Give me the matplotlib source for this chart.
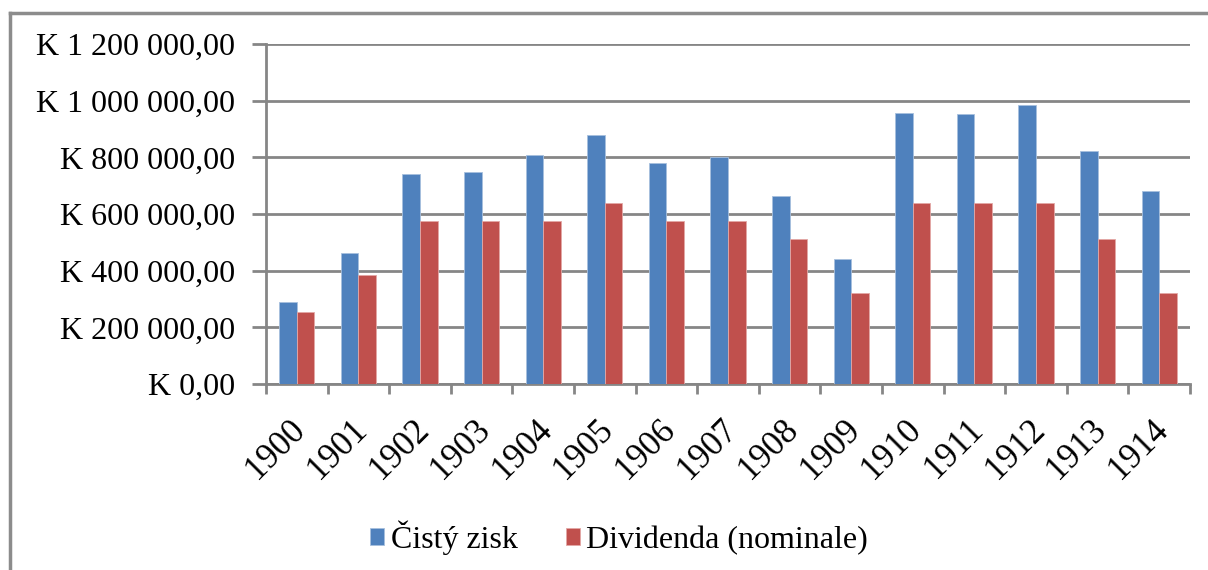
import numpy as np
import matplotlib
matplotlib.use('Agg')
import matplotlib.pyplot as plt
import matplotlib.transforms as mtransforms
from matplotlib.lines import Line2D
from matplotlib.ticker import FuncFormatter

years = ['1900', '1901', '1902', '1903', '1904', '1905', '1906', '1907',
         '1908', '1909', '1910', '1911', '1912', '1913', '1914']
cisty_zisk = [289000, 462000, 740000, 749000, 809000, 880000, 779000, 800000,
              662000, 440000, 956000, 953000, 984000, 824000, 680000]
dividenda = [255000, 384000, 575000, 575000, 575000, 639000, 575000, 575000,
             511000, 320000, 639000, 639000, 639000, 511000, 320000]

blue = '#4F81BD'
red = '#C0504D'
grid_col = '#868686'

plt.rcParams['font.family'] = ['Liberation Serif', 'DejaVu Serif']

fig = plt.figure(figsize=(12.08, 5.70), dpi=100)
ax = fig.add_axes([266/1208, 1 - 384/570, (1190 - 266)/1208, (384 - 44)/570])

# outer chart border (only top and left visible in the picture)
fig.add_artist(Line2D([10/1208, 10/1208], [0, 1 - 13/570], transform=fig.transFigure,
                      color='#8c8c8c', lw=2.5))
fig.add_artist(Line2D([10/1208, 1], [1 - 13/570, 1 - 13/570], transform=fig.transFigure,
                      color='#8c8c8c', lw=2.5))

x = np.arange(len(years))
w = 0.285
ax.bar(x - w/2, cisty_zisk, w, color=blue, edgecolor='#a7c0de', linewidth=0.6,
       label='Čistý zisk', zorder=3)
ax.bar(x + w/2, dividenda, w, color=red, edgecolor='#e3a8a6', linewidth=0.6,
       label='Dividenda (nominale)', zorder=3)

ax.set_xlim(-0.5, len(years) - 0.5)
ax.set_ylim(0, 1200000)
ax.set_yticks(np.arange(0, 1200001, 200000))

def kc(v, pos):
    s = '{:,.2f}'.format(v).replace(',', ' ').replace('.', ',')
    return 'K ' + s

ax.yaxis.set_major_formatter(FuncFormatter(kc))
ax.yaxis.grid(True, color=grid_col, lw=2, zorder=0)
ax.set_axisbelow(True)

for s in ['top', 'right']:
    ax.spines[s].set_visible(False)
ax.spines['left'].set_color(grid_col)
ax.spines['left'].set_linewidth(2)
ax.spines['bottom'].set_color(grid_col)
ax.spines['bottom'].set_linewidth(2)

ax.set_xticks(x)
ax.set_xticklabels(years, rotation=45, ha='right', va='top', rotation_mode='anchor',
                   fontsize=25)
ax.tick_params(axis='x', length=0, pad=21)
offset = mtransforms.ScaledTranslation(-8/100, 0, fig.dpi_scale_trans)
for lab in ax.get_xticklabels():
    lab.set_transform(lab.get_transform() + offset)
ax.set_xticks(np.arange(-0.5, len(years)), minor=True)
ax.tick_params(axis='x', which='minor', length=7, width=2, color=grid_col)
ax.tick_params(axis='y', length=10, width=2, color=grid_col, labelsize=23, pad=12)

fig.legend(loc='center', bbox_to_anchor=(619/1208, 1 - 538/570), ncol=2, frameon=False,
           fontsize=23, handlelength=0.45, handleheight=0.45, handletextpad=0.2,
           columnspacing=1.5)

fig.savefig('out.png', dpi=100)
